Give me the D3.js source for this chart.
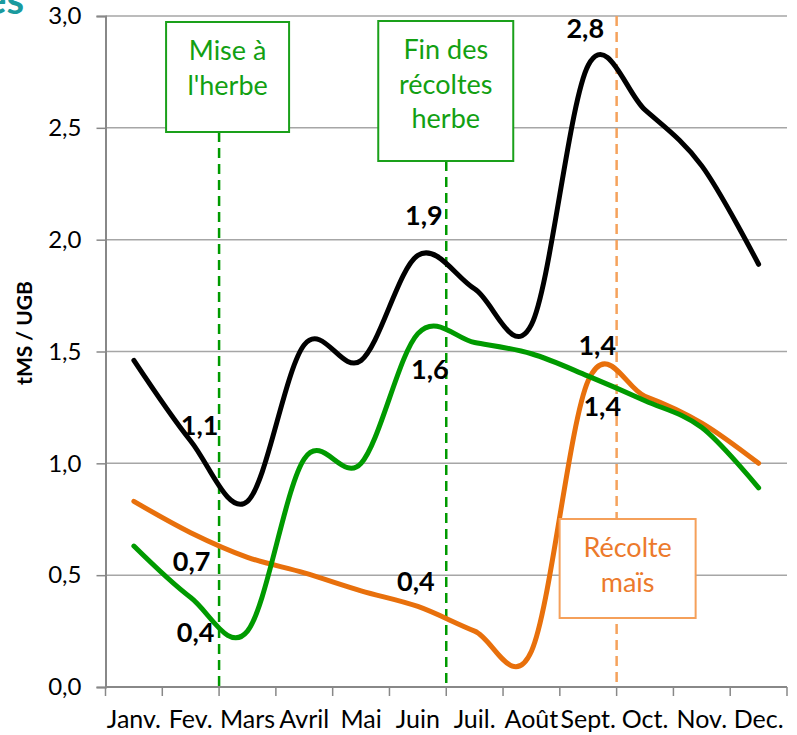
<!DOCTYPE html>
<html>
<head>
<meta charset="utf-8">
<script src="https://cdn.jsdelivr.net/npm/d3@7"></script>
<style>
  body { margin: 0; background: #fff; }
  svg { display: block; font-family: Lato, "Open Sans", sans-serif; }
</style>
</head>
<body>
<div id="chart"></div>
<script>
// mois
const months = ['Janv.', 'Fev.', 'Mars', 'Avril', 'Mai', 'Juin', 'Juil.', 'Août', 'Sept.', 'Oct.', 'Nov.', 'Dec.'];

// tMS / UGB par mois
const totalStock = [1.46, 1.10, 0.83, 1.53, 1.46, 1.93, 1.78, 1.62, 2.78, 2.58, 2.33, 1.89];
const herbeStock = [0.63, 0.40, 0.25, 1.02, 1.00, 1.58, 1.54, 1.49, 1.39, 1.28, 1.16, 0.89];
const maisStock  = [0.83, 0.69, 0.58, 0.51, 0.43, 0.36, 0.25, 0.16, 1.37, 1.30, 1.18, 1.00];

const yTicks = [0, 0.5, 1, 1.5, 2, 2.5, 3];

// étiquettes de données : [série, mois, texte]
const dataLabels = [
  ['total', 'Fev.', '1,1'],
  ['mais',  'Fev.', '0,7'],
  ['herbe', 'Fev.', '0,4'],
  ['total', 'Juin', '1,9'],
  ['herbe', 'Juin', '1,6'],
  ['mais',  'Juin', '0,4'],
  ['total', 'Sept.', '2,8'],
  ['mais',  'Sept.', '1,4'],
  ['herbe', 'Sept.', '1,4']
];

// repères (début du mois)
const markerMonths = ['Mars', 'Juil.', 'Oct.'];
const markerTexts = [['Mise à', "l'herbe"], ['Fin des', 'récoltes', 'herbe'], ['Récolte', 'maïs']];

const W = 797, H = 735;
const svg = d3.select('#chart').append('svg').attr('width', W).attr('height', H);

const x = d3.scaleBand().domain(months).range([105.5, 787]).padding(0);
const y = d3.scaleLinear().domain([0, 3]).range([687, 16]);
const cx = m => x(m) + x.bandwidth() / 2;

const series = {
  total: { values: totalStock, color: '#000000' },
  herbe: { values: herbeStock, color: '#009a00' },
  mais:  { values: maisStock,  color: '#e8700c' }
};

// titre coupé (reste de la diapositive)
svg.append('text')
  .attr('x', 24).attr('y', 14)
  .style('text-anchor', 'end')
  .style('font-size', '40px')
  .style('font-weight', 'bold')
  .style('fill', '#1a9a9e')
  .text('es');

// grille
svg.append('g').selectAll('line')
  .data(yTicks.filter(d => d > 0))
  .join('line')
  .attr('x1', 105.5).attr('x2', 787)
  .attr('y1', d => y(d)).attr('y2', d => y(d))
  .style('stroke', '#a6a6a6')
  .style('stroke-width', 1.5);

// axe Y
const yAxis = svg.append('g').attr('transform', 'translate(105.5,0)')
  .call(d3.axisLeft(y).tickValues(yTicks).tickSize(9).tickPadding(15)
    .tickFormat(d => d3.format('.1f')(d).replace('.', ',')));
yAxis.select('.domain').style('stroke', '#888').style('stroke-width', 2);
yAxis.selectAll('.tick line').style('stroke', '#888').style('stroke-width', 1.5);
yAxis.selectAll('text').style('font-size', '24px').style('fill', '#000')
  .style('font-family', 'Lato, sans-serif');

// axe X
const edges = months.map(m => x(m)).concat([x.range()[1]]);
const xAxis = svg.append('g').attr('transform', 'translate(0,687)');
xAxis.append('line')
  .attr('x1', 105.5).attr('x2', 787)
  .style('stroke', '#888').style('stroke-width', 2);
xAxis.selectAll('.xt').data(edges).join('line')
  .attr('class', 'xt')
  .attr('x1', d => d).attr('x2', d => d)
  .attr('y1', 0).attr('y2', 9)
  .style('stroke', '#888').style('stroke-width', 1.5);
xAxis.selectAll('text').data(months).join('text')
  .attr('x', d => cx(d))
  .attr('y', 41)
  .style('text-anchor', 'middle')
  .style('font-size', '25px')
  .style('fill', '#000')
  .text(d => d);

// titre axe Y
svg.append('text')
  .attr('transform', 'translate(32,333) rotate(-90)')
  .style('text-anchor', 'middle')
  .style('font-size', '21px')
  .style('font-weight', 'bold')
  .text('tMS / UGB');

// lignes pointillées des repères
const markerColors = ['#009a00', '#009a00', '#f5a25c'];
const boxes = [
  { dx: -53, top: 22, w: 123, h: 110 },
  { dx: -68, top: 21, w: 135, h: 140 },
  { dx: -57, top: 519, w: 136, h: 99 }
];

markerMonths.forEach((m, i) => {
  const bx = boxes[i];
  const y1 = i === 2 ? y(3) : bx.top + bx.h;
  svg.append('line')
    .attr('x1', x(m)).attr('x2', x(m))
    .attr('y1', y1).attr('y2', y(0))
    .style('stroke', markerColors[i])
    .style('stroke-width', 2.5)
    .style('stroke-dasharray', '10,6');
});

// courbes
const line = d3.line()
  .x((d, i) => cx(months[i]))
  .y(d => y(d))
  .curve(d3.curveCatmullRom.alpha(0));

['mais', 'herbe', 'total'].forEach(k => {
  svg.append('path')
    .attr('d', line(series[k].values))
    .style('fill', 'none')
    .style('stroke', series[k].color)
    .style('stroke-width', 5)
    .style('stroke-linecap', 'round')
    .style('stroke-linejoin', 'round');
});

// encadrés
const boxStroke = ['#1aa01a', '#1aa01a', '#f5a05a'];
const boxText = ['#12a012', '#12a012', '#ec7a2c'];
markerMonths.forEach((m, i) => {
  const bx = boxes[i];
  const x0 = x(m) + bx.dx;
  svg.append('rect')
    .attr('x', x0).attr('y', bx.top)
    .attr('width', bx.w).attr('height', bx.h)
    .style('fill', '#fff')
    .style('stroke', boxStroke[i])
    .style('stroke-width', 2);
  svg.append('text')
    .attr('x', x0 + bx.w / 2)
    .style('text-anchor', 'middle')
    .style('font-size', '27px')
    .style('fill', boxText[i])
    .selectAll('tspan').data(markerTexts[i]).join('tspan')
    .attr('x', x0 + bx.w / 2)
    .attr('y', (d, j) => bx.top + 38 + j * 34.5)
    .text(d => d);
});

// étiquettes
const labelOffset = {
  'total|Fev.': [9, -16], 'mais|Fev.': [1, 29], 'herbe|Fev.': [5, 35],
  'total|Juin': [6, -40], 'herbe|Juin': [12, 36], 'mais|Juin': [-2, -25],
  'total|Sept.': [-3, -37], 'mais|Sept.': [9, -35], 'herbe|Sept.': [14, 30]
};
svg.append('g').selectAll('text').data(dataLabels).join('text')
  .attr('x', d => cx(d[1]) + labelOffset[d[0] + '|' + d[1]][0])
  .attr('y', d => y(series[d[0]].values[months.indexOf(d[1])]) + labelOffset[d[0] + '|' + d[1]][1])
  .attr('dy', '0.36em')
  .style('text-anchor', 'middle')
  .style('font-size', '27px')
  .style('font-weight', 'bold')
  .style('fill', '#000')
  .text(d => d[2]);
</script>
</body>
</html>
